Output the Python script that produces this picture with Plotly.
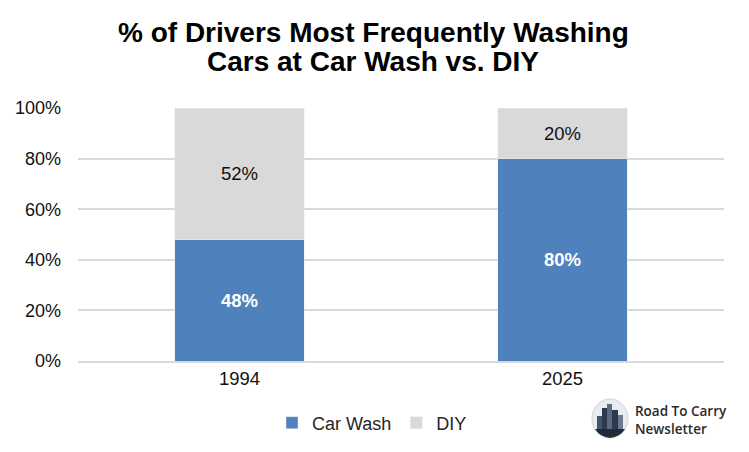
import plotly.graph_objects as go

years = ["1994", "2025"]
car_wash = [48, 80]
diy = [52, 20]
tick_vals = [0, 20, 40, 60, 80, 100]
tick_text = ["0%", "20%", "40%", "60%", "80%", "100%"]
title_lines = ["% of Drivers Most Frequently Washing", "Cars at Car Wash vs. DIY"]
brand_lines = ["Road To Carry", "Newsletter"]

W, H = 741, 444            # page has an 8px body margin
L, T, R, B = 70, 100, 25, 91
PW, PH = W - L - R, H - T - B


def px(x):
    return (x - L) / PW


def py(y):
    return 1 + (T - y) / PH


fig = go.Figure()
fig.add_trace(go.Bar(
    x=years, y=car_wash, name="Car Wash", marker_color="#4f81bd",
    text=[f"{v}%" for v in car_wash], textposition="inside", insidetextanchor="middle",
    textfont=dict(color="white", size=18.5, family="Liberation Sans", weight="bold"),
    width=0.4, hoverinfo="skip"))
fig.add_trace(go.Bar(
    x=years, y=diy, name="DIY", marker_color="#d9d9d9",
    text=[f"{v}%" for v in diy], textposition="inside", insidetextanchor="middle",
    textfont=dict(color="#111111", size=18.5, family="Liberation Sans"),
    width=0.4, hoverinfo="skip"))

fig.update_layout(
    width=W, height=H, barmode="stack",
    paper_bgcolor="white", plot_bgcolor="white",
    margin=dict(l=L, r=R, t=T, b=B, autoexpand=False),
    font=dict(family="Liberation Sans", color="#262626", size=18),
    showlegend=True,
    legend=dict(orientation="h", x=px(364), xanchor="center", y=py(415), yanchor="middle",
                font=dict(size=18, color="#262626"), traceorder="normal",
                itemwidth=30, tracegroupgap=0),
    uniformtext=dict(mode=False),
)
fig.update_yaxes(range=[0, 100], tickvals=tick_vals, ticktext=tick_text,
                 showgrid=True, gridcolor="#d9d9d9", gridwidth=1.5, zeroline=False,
                 ticks="", ticklabelstandoff=16, automargin=False,
                 tickfont=dict(size=18, color="#111111"), fixedrange=True)
fig.update_xaxes(showline=True, linecolor="#d9d9d9", linewidth=1.5, automargin=False,
                 tickfont=dict(size=18.5, color="#111111"), ticks="")

# Title (two lines, tight line pitch)
for line, yc in zip(title_lines, [24.5, 54]):
    fig.add_annotation(text=f"<b>{line}</b>", xref="paper", yref="paper",
                       x=px(365), y=py(yc), xanchor="center", yanchor="middle",
                       showarrow=False,
                       font=dict(size=28, color="black", family="Liberation Sans"))

# Logo
fig.add_shape(type="circle", xref="paper", yref="paper",
              x0=px(584), x1=px(620), y0=py(430), y1=py(391),
              fillcolor="#e9ecef", line=dict(color="#d0d4d8", width=1))
for x0, x1, ytop, col in [(589, 594, 408, "#44556a"), (594, 599, 400, "#2b3a4d"),
                          (599, 604, 396, "#5a6b80"), (604, 610, 402, "#2b3a4d"),
                          (610, 615, 407, "#6b7c90")]:
    fig.add_shape(type="rect", xref="paper", yref="paper",
                  x0=px(x0), x1=px(x1), y0=py(421), y1=py(ytop),
                  fillcolor=col, line=dict(width=0))
fig.add_shape(type="path", xref="paper", yref="paper",
              path=(f"M {px(587)},{py(421)} L {px(617)},{py(421)} "
                    f"Q {px(612)},{py(429)} {px(602)},{py(430)} "
                    f"Q {px(592)},{py(429)} {px(587)},{py(421)} Z"),
              fillcolor="#1f2b3a", line=dict(width=0))
fig.add_annotation(text="<br>".join(brand_lines), xref="paper", yref="paper",
                   x=px(625), y=py(411.5), xanchor="left", yanchor="middle",
                   showarrow=False, align="left",
                   font=dict(size=13.5, color="#2b2b2b", family="Open Sans", weight=600))

fig.write_html("out.html")
